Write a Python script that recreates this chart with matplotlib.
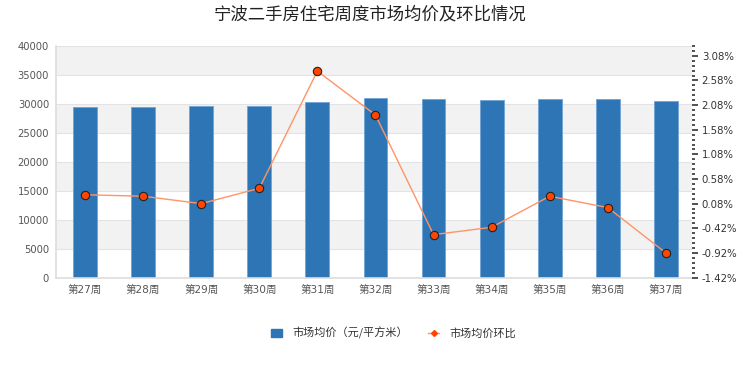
import matplotlib.pyplot as plt
from matplotlib.ticker import FixedLocator
from matplotlib.lines import Line2D
from matplotlib.patches import Patch

plt.rcParams["font.family"] = ["DejaVu Sans", "Noto Sans CJK SC"]

weeks = ["第27周", "第28周", "第29周", "第30周", "第31周", "第32周",
         "第33周", "第34周", "第35周", "第36周", "第37周"]
avg_price = [29400, 29400, 29570, 29570, 30380, 31010,
             30840, 30720, 30840, 30840, 30550]
mom_pct = [0.26, 0.23, 0.08, 0.39, 2.77, 1.88,
           -0.55, -0.40, 0.23, 0.00, -0.92]
left_ticks = list(range(0, 40001, 5000))
right_ticks = [-1.42, -0.92, -0.42, 0.08, 0.58, 1.08, 1.58, 2.08, 2.58, 3.08]

BAR_COLOR = "#2E75B6"
LINE_COLOR = "#FF9466"
MARKER_COLOR = "#FF4500"
GRID_COLOR = "#E3E3E3"
BAND_COLOR = "#F2F2F2"
CJK = ["Noto Sans CJK SC", "DejaVu Sans"]

fig = plt.figure(figsize=(7.4, 3.7), dpi=100)
ax = fig.add_axes([56 / 740, 1 - 277.5 / 370, 636 / 740, 231.5 / 370])
x = list(range(len(weeks)))

# alternating grey bands
for lo in range(5000, 40000, 10000):
    ax.axhspan(lo, lo + 5000, color=BAND_COLOR, zorder=0, lw=0)
for t in left_ticks:
    ax.axhline(t, color=GRID_COLOR, lw=0.8, zorder=0.5)

ax.bar(x, avg_price, width=0.41, color=BAR_COLOR, edgecolor="#6FA3D6",
       linewidth=0.6, zorder=2)
ax.set_xlim(-0.5, 10.45)
ax.set_ylim(0, 40000)
ax.set_yticks(left_ticks)
ax.set_xticks(x)
ax.set_xticklabels(weeks, fontsize=7.6)
ax.tick_params(axis="y", length=0, labelsize=7.2, labelcolor="#555555", pad=5)
ax.tick_params(axis="x", length=0, labelcolor="#555555", pad=6)
for side in ["top", "right"]:
    ax.spines[side].set_visible(False)
for side in ["left", "bottom"]:
    ax.spines[side].set_color("#DDDDDD")
    ax.spines[side].set_linewidth(1.2)

ax2 = ax.twinx()
ax2.plot(x, mom_pct, color=LINE_COLOR, lw=1.0, marker="o", markersize=6,
         markerfacecolor=MARKER_COLOR, markeredgecolor="#222222",
         markeredgewidth=0.8, zorder=3)
ax2.set_ylim(-1.42, 3.28)
ax2.yaxis.set_major_locator(FixedLocator(right_ticks))
ax2.yaxis.set_minor_locator(FixedLocator(
    [-1.42 + 0.1 * i for i in range(48) if i % 5 != 0]))
ax2.set_yticklabels([f"{v:.2f}%" for v in right_ticks])
ax2.tick_params(axis="y", which="major", length=4, width=1.2, color="#333333",
                labelsize=7.3, labelcolor="#333333", pad=3)
ax2.tick_params(axis="y", which="minor", length=2, width=1.2, color="#333333")
for side in ["top", "left", "bottom", "right"]:
    ax2.spines[side].set_visible(False)

fig.text(0.5, 1 - 14 / 370, "宁波二手房住宅周度市场均价及环比情况",
         ha="center", va="center", fontsize=12.5, color="#222222", family=CJK)

handles = [
    Patch(facecolor=BAR_COLOR, edgecolor=BAR_COLOR),
    Line2D([0], [0], color=LINE_COLOR, lw=1.0, marker="D", markersize=3,
           markerfacecolor=MARKER_COLOR, markeredgecolor=MARKER_COLOR),
]
fig.legend(handles, ["市场均价（元/平方米）", "市场均价环比"],
           loc="center", bbox_to_anchor=(0.532, 1 - 333 / 370), ncol=2,
           frameon=False, handlelength=1.0, handleheight=0.8,
           handletextpad=0.9, columnspacing=1.8, labelcolor="#333333",
           prop={"family": CJK, "size": 8})

fig.savefig("out.png", dpi=100)
